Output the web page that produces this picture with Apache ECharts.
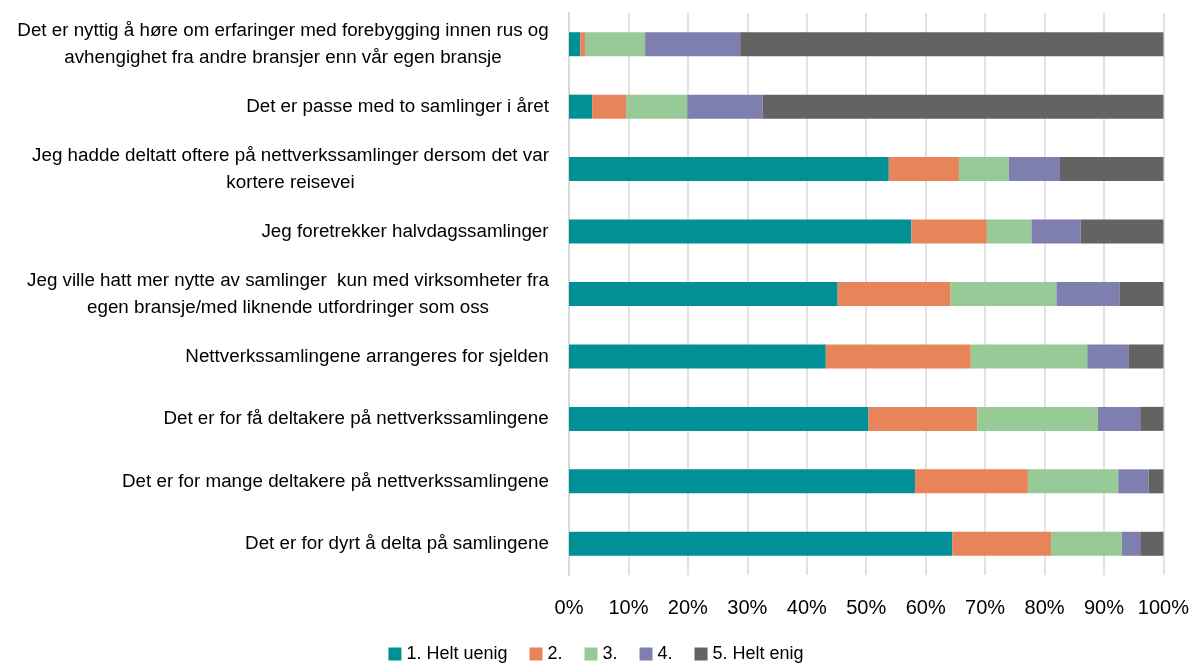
<!DOCTYPE html>
<html>
<head>
<meta charset="utf-8">
<script src="https://cdn.jsdelivr.net/npm/echarts@6/dist/echarts.min.js"></script>
<style>
  html, body { margin: 0; padding: 0; background: #fff; }
  #chart { width: 1192px; height: 664px; }
</style>
</head>
<body>
<div id="chart"></div>
<script>
// kategorier (øverst til nederst)
const categories = [
    'Det er nyttig å høre om erfaringer med forebygging innen rus og\navhengighet fra andre bransjer enn vår egen bransje',
    'Det er passe med to samlinger i året',
    'Jeg hadde deltatt oftere på nettverkssamlinger dersom det var\nkortere reisevei',
    'Jeg foretrekker halvdagssamlinger',
    'Jeg ville hatt mer nytte av samlinger  kun med virksomheter fra\negen bransje/med liknende utfordringer som oss',
    'Nettverkssamlingene arrangeres for sjelden',
    'Det er for få deltakere på nettverkssamlingene',
    'Det er for mange deltakere på nettverkssamlingene',
    'Det er for dyrt å delta på samlingene'
]
const seriesNames = ['1. Helt uenig', '2.', '3.', '4.', '5. Helt enig']
const helt_uenig = [1.9, 3.9, 53.8, 57.6, 45.2, 43.2, 50.4, 58.2, 64.5]
const svar2 = [0.8, 5.7, 11.8, 12.7, 19.0, 24.4, 18.3, 19.0, 16.6]
const svar3 = [10.1, 10.3, 8.4, 7.5, 17.8, 19.6, 20.3, 15.2, 11.9]
const svar4 = [16.0, 12.7, 8.6, 8.3, 10.6, 7.0, 7.1, 5.1, 3.1]
const helt_enig = [71.2, 67.4, 17.4, 13.9, 7.4, 5.8, 3.9, 2.5, 3.9]

const colors = ['#009096', '#E8845A', '#97CA97', '#7F7FAF', '#636363']
const labelSize = 18.8
const labelFont = labelSize + 'px "Liberation Sans"'

// måle bredeste linje så flerlinjers etiketter blir sentrert
const ctx = document.createElement('canvas').getContext('2d')
ctx.font = labelFont
const rich = {}
categories.forEach(function (c, i) {
    let w = 0
    c.split('\n').forEach(function (l) { w = Math.max(w, ctx.measureText(l).width) })
    rich['c' + i] = { width: Math.ceil(w), align: 'center', fontSize: labelSize, lineHeight: 27, color: '#000', fontFamily: 'Liberation Sans' }
})

const data = [helt_uenig, svar2, svar3, svar4, helt_enig]
const myChart = echarts.init(document.getElementById('chart'))
const option = {
    animation: false,
    grid: { left: 569, right: 27, top: 13, bottom: 89 },
    legend: {
        top: 640,
        left: 'center',
        itemWidth: 13,
        itemHeight: 13,
        itemGap: 22,
        icon: 'rect',
        textStyle: { fontSize: 18, color: '#000', fontFamily: 'Liberation Sans' },
        data: seriesNames
    },
    xAxis: {
        type: 'value',
        min: 0,
        max: 100,
        interval: 10,
        axisLine: { show: false },
        axisTick: { show: false },
        splitLine: { lineStyle: { color: '#d9d9d9', width: 1.5 } },
        axisLabel: {
            formatter: '{value}%',
            fontSize: 20,
            color: '#000',
            fontFamily: 'Liberation Sans',
            margin: 23
        }
    },
    yAxis: {
        type: 'category',
        inverse: true,
        data: categories,
        axisTick: { show: false },
        axisLine: { lineStyle: { color: '#d9d9d9', width: 2 } },
        axisLabel: {
            margin: 20,
            formatter: function (v) {
                let idx = categories.indexOf(v)
                return v.split('\n').map(function (l) { return '{c' + idx + '|' + l + '}' }).join('\n')
            },
            rich: rich
        }
    },
    series: data.map(function (d, i) {
        return {
            name: seriesNames[i],
            type: 'bar',
            stack: 'total',
            barWidth: 24,
            itemStyle: { color: colors[i] },
            data: d
        }
    })
}
myChart.setOption(option)
</script>
</body>
</html>
